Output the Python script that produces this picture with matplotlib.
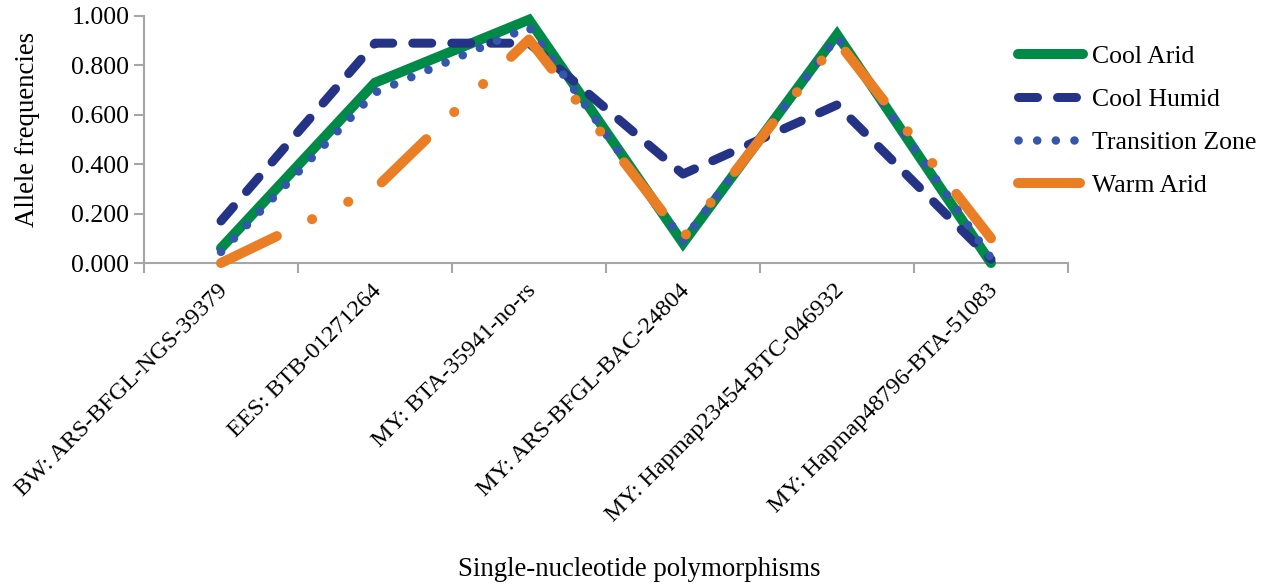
import matplotlib
matplotlib.use("Agg")
import matplotlib.pyplot as plt
import matplotlib.transforms as mtransforms

categories = ["BW: ARS-BFGL-NGS-39379", "EES: BTB-01271264", "MY: BTA-35941-no-rs",
              "MY: ARS-BFGL-BAC-24804", "MY: Hapmap23454-BTC-046932", "MY: Hapmap48796-BTA-51083"]
cool_arid = [0.06, 0.73, 0.985, 0.08, 0.925, 0.0]
cool_humid = [0.17, 0.89, 0.89, 0.36, 0.64, 0.015]
transition_zone = [0.045, 0.69, 0.955, 0.09, 0.915, 0.02]
warm_arid = [0.0, 0.30, 0.905, 0.10, 0.90, 0.10]
y_ticks = [0.0, 0.2, 0.4, 0.6, 0.8, 1.0]

plt.rcParams['font.family'] = ['Liberation Serif', 'DejaVu Serif']
plt.rcParams['lines.scale_dashes'] = False
FS = 18.5
FS_X = 17.4
FS_T = 19.4

fig = plt.figure(figsize=(12.73, 5.86), dpi=100)
ax = fig.add_axes([144/1273, 1-263/586, 924/1273, 247/586])

x = list(range(len(categories)))
px = 0.72  # points per pixel
ax.plot(x, cool_arid, color='#008A47', lw=10*px, solid_joinstyle='miter',
        solid_capstyle='round', label='Cool Arid', clip_on=False, zorder=3)
ax.plot(x, cool_humid, color='#243386', lw=9*px, dash_capstyle='round', dash_joinstyle='round',
        dashes=(19*px, 20*px), label='Cool Humid', clip_on=False, zorder=4)
ax.plot(x, transition_zone, color='#3557AB', lw=8.5*px, dash_capstyle='round',
        dashes=(0.1, 18.5*px), label='Transition Zone', clip_on=False, zorder=5)
ax.plot(x, warm_arid, color='#E97E24', lw=10*px, dash_capstyle='round', dash_joinstyle='round',
        dashes=(62*px, 39*px, 0.1, 40*px, 0.1, 39*px), label='Warm Arid', clip_on=False, zorder=6)

ax.set_xlim(-0.5, len(categories) - 0.5)
ax.set_ylim(0, 1)
ax.set_yticks(y_ticks)
ax.set_yticklabels([f"{v:.3f}" for v in y_ticks], fontsize=FS)
ax.set_xticks([i - 0.5 for i in range(len(categories) + 1)])
ax.set_xticklabels([])
ax.tick_params(axis='both', which='major', color='#A6A6A6', length=7, width=1.5, direction='out')
for s in ['top', 'right']:
    ax.spines[s].set_visible(False)
for s in ['left', 'bottom']:
    ax.spines[s].set_color('#A6A6A6')
    ax.spines[s].set_linewidth(1.5)

base = mtransforms.blended_transform_factory(ax.transData, ax.transAxes)
off = mtransforms.ScaledTranslation(-4/100, -17/100, fig.dpi_scale_trans)
for i, lab in enumerate(categories):
    ax.text(i, 0, lab, transform=base + off, rotation=45, ha='right', va='top',
            rotation_mode='anchor', fontsize=FS_X, clip_on=False)

fig.text(28/1273, 1-129/586, 'Allele frequencies', fontsize=FS_T, rotation=90,
         ha='center', va='center')
fig.text(639/1273, 1-569/586, 'Single-nucleotide polymorphisms', fontsize=FS_T,
         ha='center', va='center')

fig.legend(loc='upper left', bbox_to_anchor=(1018/1273, 1-45/586), frameon=False,
           fontsize=FS, handlelength=2.53, handletextpad=0.35, labelspacing=0.78,
           borderpad=0, borderaxespad=0)

fig.savefig('out.png', dpi=100)
